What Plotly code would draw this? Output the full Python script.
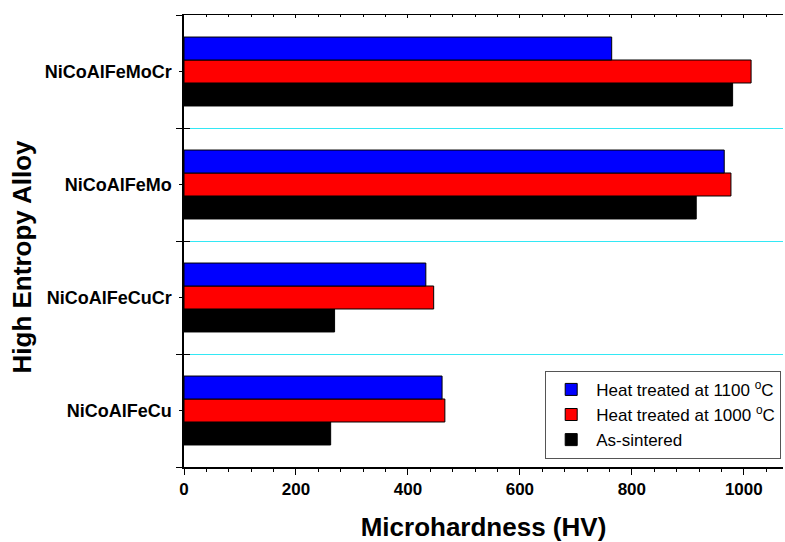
import plotly.graph_objects as go

alloys = ["NiCoAlFeCu", "NiCoAlFeCuCr", "NiCoAlFeMo", "NiCoAlFeMoCr"]
as_sintered = [262, 269, 915, 980]
ht_1000 = [466, 446, 977, 1013]
ht_1100 = [461, 432, 965, 764]
series_names = ["As-sintered", "Heat treated at 1000 <sup>o</sup>C", "Heat treated at 1100 <sup>o</sup>C"]
series_colors = ["#000000", "#ff0000", "#0000ff"]

ypos = list(range(len(alloys)))
boundaries = [i - 0.5 for i in range(len(alloys) + 1)]

fig = go.Figure()
for name, vals, col in zip(series_names, [as_sintered, ht_1000, ht_1100], series_colors):
    fig.add_trace(go.Bar(
        x=vals, y=ypos, orientation="h", name=name,
        marker=dict(color=col, line=dict(color="#000000", width=1)),
    ))

# helper invisible traces so the extra axes are drawn
fig.add_trace(go.Scatter(x=[0], y=[0], xaxis="x2", yaxis="y", mode="markers",
                         marker=dict(opacity=0), showlegend=False, hoverinfo="skip"))
fig.add_trace(go.Scatter(x=[0], y=[0], xaxis="x", yaxis="y2", mode="markers",
                         marker=dict(opacity=0), showlegend=False, hoverinfo="skip"))

font_family = "Liberation Sans, Arial, sans-serif"
xr = [0, 1070]
yr = [-0.5, len(alloys) - 0.5]

fig.update_layout(
    width=785, height=542,
    margin=dict(l=184, r=2, t=15, b=75),
    paper_bgcolor="white", plot_bgcolor="white",
    barmode="group", bargap=0.39, bargroupgap=0,
    font=dict(family=font_family, color="black"),
    xaxis=dict(
        range=xr, showline=True, linecolor="black", linewidth=1.5,
        tickmode="linear", tick0=0, dtick=200, ticks="outside", ticklen=6,
        tickwidth=1, tickcolor="black",
        minor=dict(dtick=40, ticks="outside", ticklen=3, tickcolor="black"),
        showgrid=False, zeroline=False,
        tickfont=dict(size=17, family=font_family, weight="bold"),
        title=dict(text="Microhardness (HV)", font=dict(size=26, family=font_family, weight="bold"), standoff=22),
    ),
    xaxis2=dict(
        range=xr, overlaying="x", side="top", showline=True, linecolor="black", linewidth=1,
        tickmode="linear", tick0=0, dtick=200, ticks="inside", ticklen=3, tickcolor="black",
        minor=dict(dtick=40, ticks="inside", ticklen=2, tickcolor="black"),
        showticklabels=False, showgrid=False, zeroline=False,
    ),
    yaxis=dict(
        range=yr, showline=True, linecolor="black", linewidth=1.5,
        tickmode="array", tickvals=ypos, ticktext=alloys,
        ticks="outside", ticklen=3, tickcolor="black",
        showgrid=False, zeroline=False,
        minor=dict(tickvals=boundaries, ticks="outside", ticklen=6, tickcolor="black", showgrid=False),
        tickfont=dict(size=18, family=font_family, weight="bold"),
        ticklabelstandoff=4,
    ),
    yaxis2=dict(
        range=yr, overlaying="y", side="left", showline=False,
        tickmode="array", tickvals=boundaries, ticks="inside", ticklen=6, tickcolor="black",
        showticklabels=False, showgrid=True, gridcolor="#33e8f5", gridwidth=1, zeroline=False,
    ),
    legend=dict(
        x=0.997, y=0.018, xanchor="right", yanchor="bottom",
        traceorder="reversed", bgcolor="white",
        bordercolor="#555555", borderwidth=1,
        font=dict(size=17, family=font_family),
        itemwidth=40, tracegroupgap=0,
    ),
    annotations=[dict(
        text="High Entropy Alloy", xref="paper", yref="paper",
        x=-0.271, y=0.465, xanchor="center", yanchor="middle", textangle=-90,
        showarrow=False, font=dict(size=26, family=font_family, weight="bold"),
    )],
    showlegend=True,
)

fig.write_html("out.html")
